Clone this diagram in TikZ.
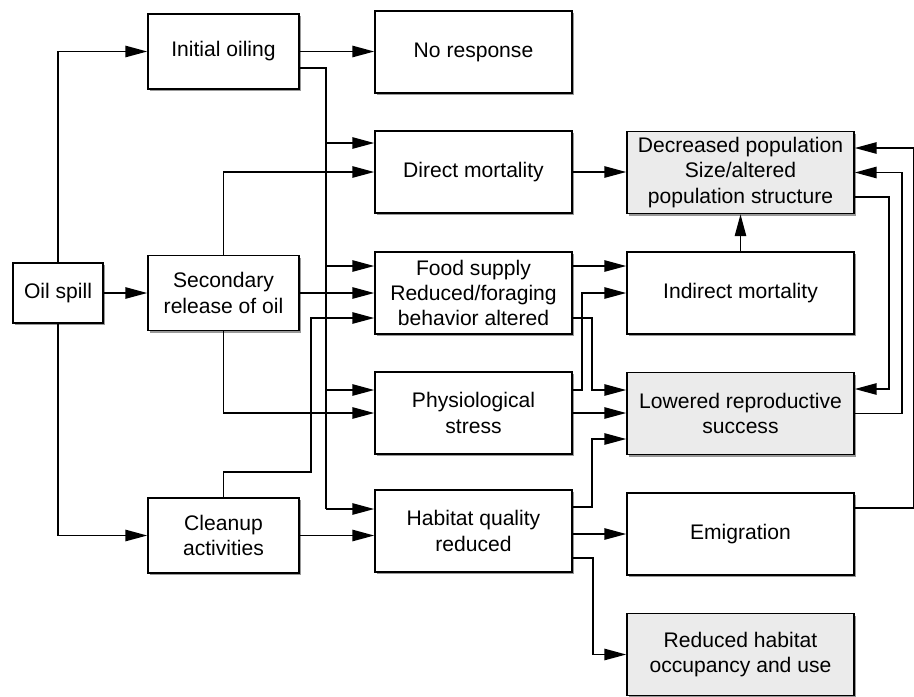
\documentclass[tikz,border=0pt]{standalone}
\usepackage{fontspec}
\setmainfont{Liberation Sans}
\usetikzlibrary{arrows.meta,calc,shadows}

\begin{document}
\begin{tikzpicture}[x=0.02cm,y=-0.02cm,line width=0.9pt,
    >={Triangle[length=12.5pt,width=6.5pt]},
    box/.style={draw,fill=white,align=center,inner sep=2pt,
      font=\fontsize{12}{14.4}\selectfont,
      drop shadow={shadow xshift=1.2pt,shadow yshift=-1.2pt,fill=black!40,opacity=1}},
    small/.style={box,minimum width=3.02cm,minimum height=1.5cm},
    mid/.style={box,minimum width=3.94cm,minimum height=1.64cm},
    wide/.style={box,minimum width=4.54cm,minimum height=1.64cm},
    grey/.style={fill=black!8}]
  \useasboundingbox (0,0) rectangle (914,697);
  % first column
  \node[box,minimum width=1.8cm,minimum height=1.2cm] (oil) at (58,293) {Oil spill};
  \node[small] (init) at (223.5,51.5) {Initial oiling};
  \node[small] (secr) at (223.5,293) {Secondary\\release of oil};
  \node[small] (clean) at (223.5,535.5) {Cleanup\\activities};
  % second column
  \node[mid] (nores) at (473.5,52) {No response};
  \node[mid] (dirm) at (473.5,172) {Direct mortality};
  \node[mid] (food) at (473.5,293) {Food supply\\Reduced/foraging\\behavior altered};
  \node[mid] (phys) at (473.5,413) {Physiological\\stress};
  \node[mid] (habq) at (473.5,531) {Habitat quality\\reduced};
  % third column
  \node[wide,grey] (decp) at (740.5,172.5) {Decreased population\\Size/altered\\population structure};
  \node[wide] (indm) at (740.5,293) {Indirect mortality};
  \node[wide,grey] (lowr) at (740.5,413.5) {Lowered reproductive\\success};
  \node[wide] (emig) at (740.5,534) {Emigration};
  \node[wide,grey] (redh) at (740.5,654.5) {Reduced habitat\\occupancy and use};

  % from the oil spill
  \draw[->] (oil.north) |- (init.west);
  \draw[->] (oil.east) -- (secr.west);
  \draw[->] (oil.south) |- (clean.west);
  \draw[->] (init.east) -- (init.east -| nores.west);
  % initial oiling feeds the whole second column
  \draw ($(init.east)+(0,16.5)$) -| ($(habq.west)+(-48,-22)$);
  \foreach \n/\d in {dirm/-29,food/-27,phys/-23,habq/-22}
    \draw[->] ($(\n.west)+(-48,\d)$) -- ($(\n.west)+(0,\d)$);
  \draw[->] (secr.north) |- (dirm.west);
  \draw[->] (secr.east) -- (food.west);
  \draw[->] (secr.south) |- (phys.west);
  \draw[->] (clean.north) -- ++(0,-25) -| ($(food.west)+(-63,25)$) -- ($(food.west)+(0,25)$);
  \draw[->] (clean.east) -- (clean.east -| habq.west);

  % second to third column
  \draw[->] (dirm.east) -- (dirm.east -| decp.west);
  \draw[->] ($(food.east)+(0,-27)$) -- ($(indm.west)+(0,-27)$);
  \draw[->] ($(food.east)+(0,25)$) -| ($(lowr.west)+(-34,-23.5)$) -- ($(lowr.west)+(0,-23.5)$);
  \draw[->] ($(phys.east)+(0,-23)$) -| ($(indm.west)+(-44,0)$) -- (indm.west);
  \draw[->] (phys.east) -- (phys.east -| lowr.west);
  \draw[->] ($(habq.east)+(0,-24)$) -| ($(lowr.west)+(-34,25.5)$) -- ($(lowr.west)+(0,25.5)$);
  \draw[->] (habq.east |- emig.west) -- (emig.west);
  \draw[->] ($(habq.east)+(0,27)$) -| ($(redh.west)+(-33,0)$) -- (redh.west);

  % third column and feedback
  \draw[->] (indm.north) -- (decp.south);
  \draw[->] ($(decp.east)+(0,24.5)$) -| ($(lowr.east)+(34,-24.5)$) -- ($(lowr.east)+(0,-24.5)$);
  \draw[->] (lowr.east) -| ($(decp.east)+(47,0)$) -- (decp.east);
  \draw[->] ($(emig.east)+(0,-26)$) -| ($(decp.east)+(59,-24.5)$) -- ($(decp.east)+(0,-24.5)$);
\end{tikzpicture}
\end{document}
